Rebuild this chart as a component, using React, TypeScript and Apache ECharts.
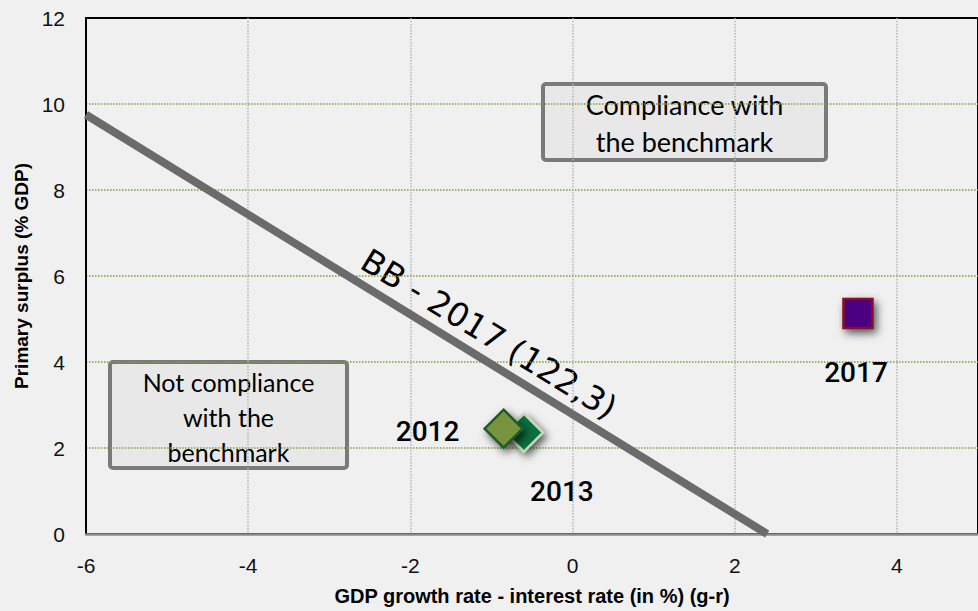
import React, { useEffect, useRef } from "react";
import * as echarts from "echarts";

const xTicks = [-6, -4, -2, 0, 2, 4];
const yTicks = [0, 2, 4, 6, 8, 10, 12];
const bbLine: [number, number][] = [[-6, 9.75], [2.4, 0]];
const bbLabel = "BB - 2017 (122,3)";
// drawing order: 2013 beneath 2012
const years = ["2013", "2012", "2017"];
const gMinusR = [-0.6, -0.85, 3.52];
const primarySurplus = [2.36, 2.45, 5.13];
const xTitle = "GDP growth rate - interest rate (in %) (g-r)";
const yTitle = "Primary surplus (% GDP)";
const boxCompliance = ["Compliance with", "the benchmark"];
const boxNotCompliance = ["Not compliance", "with the", "benchmark"];

const pointStyles: Record<string, any> = {
  "2013": { symbol: "diamond", size: 38, color: "#0B6E40", border: "#C4DAB4", off: [38, 59] },
  "2012": { symbol: "diamond", size: 38, color: "#77933C", border: "#1D5A2C", off: [-76, 3] },
  "2017": { symbol: "rect", size: 29, color: "#4B0082", border: "#8A0F25", off: [-2, 59] },
};

const axisFont = "'Liberation Sans', Arial, sans-serif";
const boxFont = "Lato, 'Open Sans', sans-serif";

export default function App() {
  const ref = useRef<HTMLDivElement>(null);
  useEffect(() => {
    if (!ref.current) return;
    const chart = echarts.init(ref.current, null, { renderer: "svg" });
    const data = years.map((y, i) => {
      const s = pointStyles[y];
      return {
        name: y,
        value: [gMinusR[i], primarySurplus[i]],
        symbol: s.symbol,
        symbolSize: s.size,
        itemStyle: {
          color: s.color,
          opacity: 1,
          borderColor: s.border,
          borderWidth: 2.5,
          shadowColor: "rgba(0,0,0,0.65)",
          shadowBlur: 8,
          shadowOffsetX: 3,
          shadowOffsetY: 4,
        },
        label: {
          show: true,
          position: "inside",
          offset: s.off,
          formatter: y,
          fontSize: 28,
          fontWeight: 500,
          fontFamily: "Roboto, sans-serif",
          color: "#000",
          opacity: 1,
          textBorderWidth: 0,
        },
      };
    });
    chart.setOption({
      animation: false,
      backgroundColor: "#F0F0F0",
      grid: {
        left: 86,
        right: -10,
        top: 18,
        bottom: 73,
        show: true,
        borderColor: "#000",
        borderWidth: 2,
        backgroundColor: "transparent",
      },
      xAxis: {
        type: "value",
        min: xTicks[0],
        max: 5,
        interval: 2,
        axisLine: { show: true, onZero: false, lineStyle: { color: "#8c8c8c", width: 2.5 } },
        axisTick: { show: false },
        axisLabel: { margin: 21, fontSize: 21, color: "#111", fontFamily: axisFont, showMaxLabel: false },
        splitLine: {
          show: true,
          showMinLine: false,
          showMaxLine: false,
          lineStyle: { color: "#b4b4b4", type: "dotted", width: 1.5 },
        },
        name: xTitle,
        nameLocation: "middle",
        nameGap: 52,
        nameTextStyle: { fontSize: 20, fontWeight: "bold", color: "#000", fontFamily: axisFont },
      },
      yAxis: {
        type: "value",
        min: yTicks[0],
        max: yTicks[yTicks.length - 1],
        interval: 2,
        axisLine: { show: true, onZero: false, lineStyle: { color: "#000", width: 2 } },
        axisTick: { show: false },
        axisLabel: { margin: 21, fontSize: 21, color: "#111", fontFamily: axisFont },
        splitLine: {
          show: true,
          showMinLine: false,
          showMaxLine: false,
          lineStyle: { color: "#7F9A3C", type: "dotted", width: 1.5 },
        },
        name: yTitle,
        nameLocation: "middle",
        nameGap: 55,
        nameRotate: 90,
        nameTextStyle: { fontSize: 19, fontWeight: "bold", color: "#000", fontFamily: axisFont },
      },
      series: [
        {
          type: "line",
          data: bbLine,
          symbol: "none",
          silent: true,
          z: 3,
          lineStyle: { color: "#6b6b6b", width: 8 },
        },
        {
          type: "scatter",
          data,
          z: 4,
        },
      ],
      graphic: [
        {
          type: "group",
          z: 1,
          children: [
            {
              type: "rect",
              shape: { x: 543, y: 84, width: 283, height: 76, r: 3 },
              style: { fill: "rgba(200,200,200,0.2)", stroke: "#7a7a7a", lineWidth: 4 },
            },
            {
              type: "text",
              x: 684.5,
              y: 123,
              style: {
                text: boxCompliance.join("\n"),
                fontSize: 27,
                lineHeight: 37,
                fontFamily: boxFont,
                fill: "#000",
                align: "center",
                verticalAlign: "middle",
              },
            },
            {
              type: "rect",
              shape: { x: 110, y: 362, width: 237, height: 106, r: 3 },
              style: { fill: "rgba(200,200,200,0.2)", stroke: "#7a7a7a", lineWidth: 4 },
            },
            {
              type: "text",
              x: 228.5,
              y: 417,
              style: {
                text: boxNotCompliance.join("\n"),
                fontSize: 25,
                lineHeight: 35,
                fontFamily: boxFont,
                fill: "#000",
                align: "center",
                verticalAlign: "middle",
              },
            },
            {
              type: "text",
              x: 489,
              y: 334,
              rotation: -0.55,
              style: {
                text: bbLabel,
                fontSize: 33,
                fontFamily: "'DejaVu Sans', sans-serif",
                fill: "#000",
                align: "center",
                verticalAlign: "middle",
              },
            },
          ],
        },
      ],
    });
    return () => chart.dispose();
  }, []);
  return (
    <div
      ref={ref}
      style={{ position: "fixed", left: 0, top: 0, width: 978, height: 611 }}
    />
  );
}
